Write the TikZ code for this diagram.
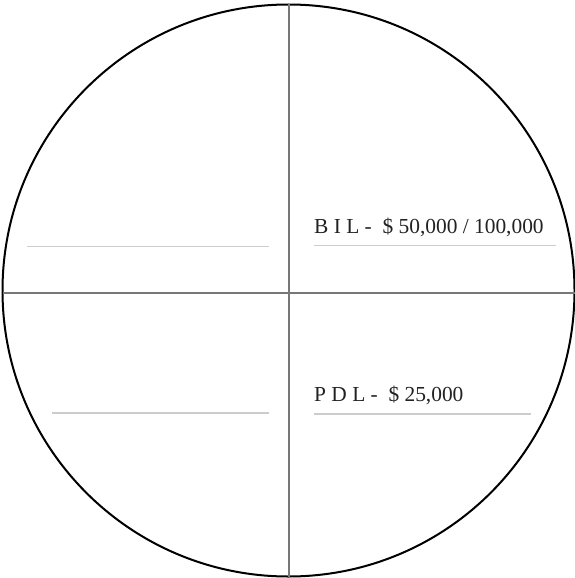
\documentclass[tikz,border=0pt]{standalone}
\usepackage{fontspec}
\setmainfont{Liberation Serif}
\definecolor{crossgray}{HTML}{777777}
\definecolor{ulgray}{HTML}{CCCCCC}
\definecolor{txt}{HTML}{222222}
\begin{document}
\begin{tikzpicture}[x=1pt,y=-1pt,
  ring/.style={draw=black,line width=2pt},
  axis/.style={draw=crossgray,line width=2pt},
  uline/.style={draw=ulgray,line width=1.2pt},
  lab/.style={anchor=base west,inner sep=0pt,text=txt,font=\fontsize{21.4}{23}\selectfont}]
\useasboundingbox (0,0) rectangle (575,578);
\coordinate (c) at (288.5,290.5);
\draw[ring] (c) circle (286);
\coordinate (vt) at (289,4.5);
\coordinate (vb) at (289,577);
\coordinate (hl) at (3,293);
\coordinate (hr) at (575,293);
\draw[axis] (vt) -- (vb);
\draw[axis] (hl) -- (hr);
\node[lab] (bil) at (314,233.5) {B I L -\ \ \$ 50,000 / 100,000};
\node[lab] (pdl) at (314,401.5) {P D L -\ \ \$ 25,000};
\coordinate (a1) at (314,245.7); \coordinate (a2) at (556,245.7);
\coordinate (b1) at (314,414); \coordinate (b2) at (531,414);
\coordinate (l1) at (27,246.7); \coordinate (l2) at (269,246.7);
\coordinate (m1) at (52,413); \coordinate (m2) at (269,413);
\draw[uline] (a1) -- (a2);
\draw[uline] (b1) -- (b2);
\draw[uline] (l1) -- (l2);
\draw[uline] (m1) -- (m2);
\end{tikzpicture}
\end{document}
